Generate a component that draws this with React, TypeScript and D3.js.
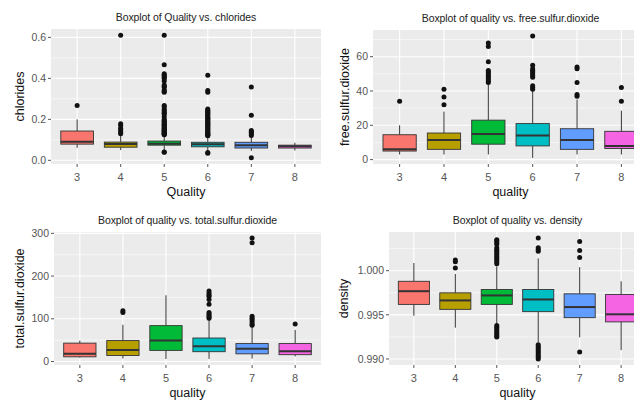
import React from "react";
import * as d3 from "d3";

const qualities = ["3", "4", "5", "6", "7", "8"];
const hueColors = ["#F8766D", "#B79F00", "#00BA38", "#00BFC4", "#619CFF", "#F564E3"];

// each box: [lower whisker, Q1, median, Q3, upper whisker]
const chloridesBoxes = [
  [0.061, 0.079, 0.0905, 0.143, 0.2],
  [0.05, 0.064, 0.08, 0.089, 0.12],
  [0.045, 0.074, 0.081, 0.094, 0.124],
  [0.04, 0.066, 0.078, 0.088, 0.118],
  [0.046, 0.06, 0.074, 0.088, 0.116],
  [0.048, 0.06, 0.0685, 0.074, 0.086],
];
const chloridesOutliers = [
  [0.267],
  [0.13, 0.137, 0.147, 0.156, 0.17, 0.178, 0.61],
  [0.039, 0.041, 0.125, 0.127, 0.13, 0.132, 0.136, 0.139, 0.142, 0.145, 0.148, 0.152, 0.157, 0.16, 0.166,
    0.171, 0.175, 0.178, 0.184, 0.19, 0.194, 0.2, 0.213, 0.226, 0.23, 0.236, 0.243, 0.25, 0.263, 0.267,
    0.332, 0.337, 0.343, 0.358, 0.36, 0.368, 0.387, 0.401, 0.403, 0.413, 0.415, 0.422, 0.467, 0.611],
  [0.034, 0.038, 0.12, 0.122, 0.125, 0.128, 0.132, 0.136, 0.14, 0.145, 0.15, 0.155, 0.16, 0.166, 0.171,
    0.176, 0.18, 0.186, 0.19, 0.196, 0.2, 0.205, 0.21, 0.216, 0.222, 0.226, 0.232, 0.236, 0.241, 0.246,
    0.25, 0.332, 0.341, 0.415],
  [0.012, 0.121, 0.13, 0.136, 0.14, 0.145, 0.22, 0.358],
  [],
];

const freeSO2Boxes = [
  [3, 5, 6, 14.5, 20],
  [3, 6, 11.5, 15.5, 28],
  [3, 9, 15, 23, 44.5],
  [1, 8, 14, 21, 40],
  [3, 6, 11.5, 18, 35],
  [3, 6.5, 8, 16.5, 28.5],
];
const freeSO2Outliers = [
  [34],
  [32, 36.5, 41],
  [45, 46, 47, 48, 49, 50, 51, 52, 57, 66, 68],
  [41, 42, 43, 48, 49, 50, 51, 52, 53, 55, 72],
  [37, 38, 45, 53, 54],
  [34, 42],
];

const totalSO2Boxes = [
  [9, 11, 18, 43, 49],
  [7, 14, 27, 49, 86],
  [6, 26, 49, 84, 155],
  [6, 23, 36, 55, 98],
  [7, 18, 30, 42, 82],
  [12, 16, 24, 42, 74],
];
const totalSO2Outliers = [
  [],
  [115, 119],
  [],
  [101, 104, 108, 111, 115, 134, 145, 152, 155, 160, 165],
  [85, 88, 93, 98, 101, 106, 278, 289],
  [88],
];

const densityBoxes = [
  [0.9949, 0.99618, 0.99768, 0.9988, 1.00087],
  [0.99354, 0.99562, 0.99663, 0.99749, 0.99963],
  [0.994, 0.99618, 0.9972, 0.99787, 1.0005],
  [0.9919, 0.99536, 0.99674, 0.99787, 1.0014],
  [0.99245, 0.99468, 0.99588, 0.99738, 1.0004],
  [0.991, 0.9942, 0.99506, 0.9973, 0.9988],
];
const densityOutliers = [
  [],
  [1.0003, 1.001, 1.0012],
  [0.9925, 0.9926, 0.9928, 0.993, 0.9932, 0.9934, 0.9936, 0.9938,
    1.0008, 1.001, 1.0012, 1.0014, 1.0016, 1.0018, 1.002, 1.0022, 1.0024, 1.0026, 1.003, 1.0032, 1.0034, 1.0035],
  [0.99, 0.9902, 0.9904, 0.9906, 0.9908, 0.991, 0.9912, 0.9914, 0.9916, 1.0022, 1.0024, 1.0026, 1.0037],
  [0.9908, 1.0015, 1.0023, 1.0033],
  [],
];

const FONT = "'Liberation Sans', Arial, sans-serif";

interface PanelProps {
  title: string;
  xTitle: string;
  yTitle: string;
  boxes: number[][];
  outliers: number[][];
  major: number[];
  minor: number[];
  fmt: (v: number) => string;
  left: number;
  right: number;
  top: number;
  bottom: number;
  yTitleX: number;
}

const Panel: React.FC<PanelProps> = (p) => {
  const x = d3.scalePoint<string>().domain(qualities).range([p.left, p.right]).padding(0.6);
  const all = p.boxes.flat().concat(p.outliers.flat());
  const [lo, hi] = d3.extent(all) as [number, number];
  const pad = (hi - lo) * 0.05;
  const y = d3.scaleLinear().domain([lo - pad, hi + pad]).range([p.bottom, p.top]);
  const bw = x.step() * 0.75;
  const cx = (p.left + p.right) / 2;

  return (
    <g>
      <rect x={p.left} y={p.top} width={p.right - p.left} height={p.bottom - p.top} fill="#EBEBEB" />
      {p.minor.map((v) => (
        <line key={"n" + v} x1={p.left} x2={p.right} y1={y(v)} y2={y(v)} stroke="#fff" strokeWidth={0.55} />
      ))}
      {p.major.map((v) => (
        <line key={"m" + v} x1={p.left} x2={p.right} y1={y(v)} y2={y(v)} stroke="#fff" strokeWidth={1.1} />
      ))}
      {qualities.map((q) => (
        <line key={"v" + q} x1={x(q)} x2={x(q)} y1={p.top} y2={p.bottom} stroke="#fff" strokeWidth={1.1} />
      ))}

      {p.boxes.map((b, i) => {
        const q = qualities[i];
        const xc = x(q)!;
        return (
          <g key={"b" + q}>
            <line x1={xc} x2={xc} y1={y(b[0])} y2={y(b[1])} stroke="#333" strokeWidth={1} />
            <line x1={xc} x2={xc} y1={y(b[3])} y2={y(b[4])} stroke="#333" strokeWidth={1} />
            <rect x={xc - bw / 2} y={y(b[3])} width={bw} height={y(b[1]) - y(b[3])}
              fill={hueColors[i]} stroke="#333" strokeWidth={0.9} />
            <line x1={xc - bw / 2} x2={xc + bw / 2} y1={y(b[2])} y2={y(b[2])} stroke="#333" strokeWidth={2} />
            {p.outliers[i].map((o, j) => (
              <circle key={j} cx={xc} cy={y(o)} r={2.5} fill="#111" />
            ))}
          </g>
        );
      })}

      {p.major.map((v) => (
        <g key={"t" + v}>
          <line x1={p.left - 3} x2={p.left} y1={y(v)} y2={y(v)} stroke="#555" strokeWidth={1} />
          <text x={p.left - 5} y={y(v)} dy="0.35em" textAnchor="end" fontSize={10.5} fill="#555" fontFamily={FONT}>
            {p.fmt(v)}
          </text>
        </g>
      ))}
      {qualities.map((q) => (
        <g key={"xt" + q}>
          <line x1={x(q)} x2={x(q)} y1={p.bottom} y2={p.bottom + 3} stroke="#555" strokeWidth={1} />
          <text x={x(q)} y={p.bottom + 17} textAnchor="middle" fontSize={11} fill="#555" fontFamily={FONT}>
            {q}
          </text>
        </g>
      ))}

      <text x={cx} y={p.top - 8} textAnchor="middle" fontSize={10.5} fill="#222" fontFamily={FONT}
        letterSpacing={-0.1}>
        {p.title}
      </text>
      <text x={cx} y={p.bottom + 32} textAnchor="middle" fontSize={12.5} fill="#111" fontFamily={FONT}>
        {p.xTitle}
      </text>
      <text transform={`translate(${p.yTitleX},${(p.top + p.bottom) / 2}) rotate(-90)`} dy="0.35em"
        textAnchor="middle" fontSize={12.5} fill="#111" fontFamily={FONT}>
        {p.yTitle}
      </text>
    </g>
  );
};

const App: React.FC = () => {
  return (
    <svg width={634} height={400} style={{ position: "absolute", left: 0, top: 0, background: "#fff" }}>
      <rect width={634} height={400} fill="#fff" />
      <Panel title="Boxplot of Quality vs. chlorides" xTitle="Quality" yTitle="chlorides"
        boxes={chloridesBoxes} outliers={chloridesOutliers}
        major={[0, 0.2, 0.4, 0.6]} minor={[0.1, 0.3, 0.5]} fmt={d3.format(".1f")}
        left={51} right={321} top={29} bottom={164} yTitleX={20} />
      <Panel title="Boxplot of quality vs. free.sulfur.dioxide" xTitle="quality" yTitle="free.sulfur.dioxide"
        boxes={freeSO2Boxes} outliers={freeSO2Outliers}
        major={[0, 20, 40, 60]} minor={[10, 30, 50, 70]} fmt={d3.format("d")}
        left={373} right={648} top={30} bottom={164} yTitleX={345} />
      <Panel title="Boxplot of quality vs. total.sulfur.dioxide" xTitle="quality" yTitle="total.sulfur.dioxide"
        boxes={totalSO2Boxes} outliers={totalSO2Outliers}
        major={[0, 100, 200, 300]} minor={[50, 150, 250]} fmt={d3.format("d")}
        left={54} right={321} top={232} bottom={365} yTitleX={20} />
      <Panel title="Boxplot of quality vs. density" xTitle="quality" yTitle="density"
        boxes={densityBoxes} outliers={densityOutliers}
        major={[0.99, 0.995, 1.0]} minor={[0.9925, 0.9975, 1.0025]} fmt={d3.format(".3f")}
        left={389} right={646} top={232} bottom={365} yTitleX={344} />
    </svg>
  );
};

export default App;
